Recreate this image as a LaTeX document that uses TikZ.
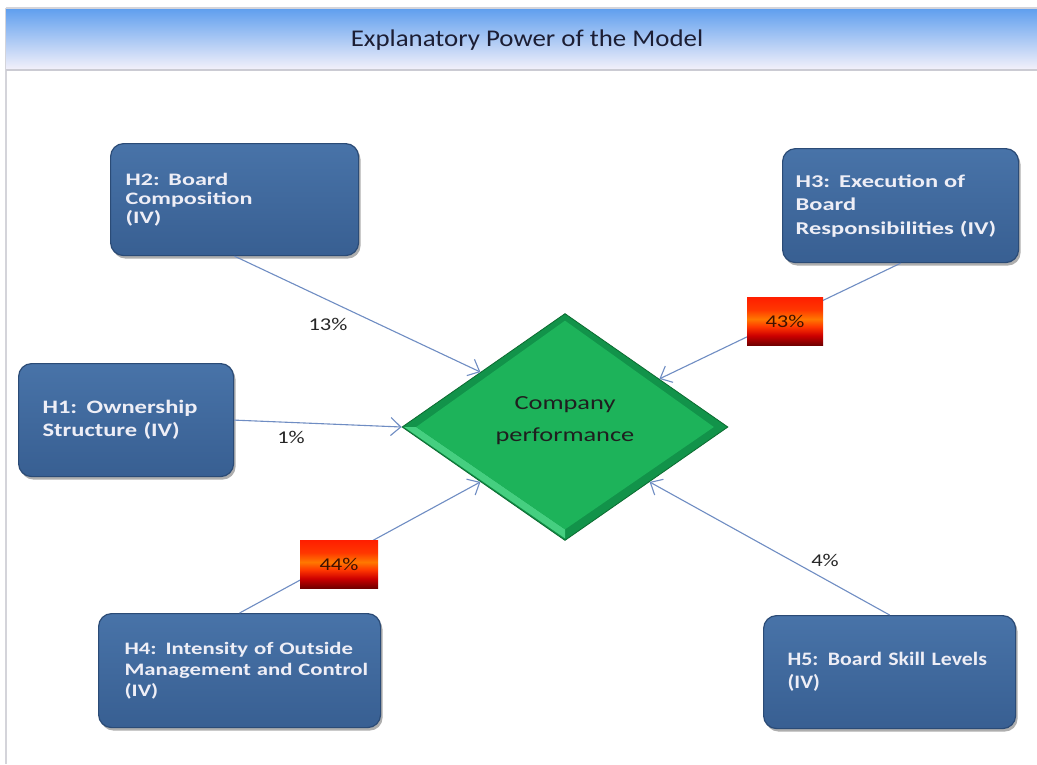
\documentclass[tikz,border=0pt]{standalone}
\usepackage{fontspec}
\setmainfont{Carlito}
\newfontfamily\boxfont{Carlito}
\newfontfamily\titlefont[FakeStretch=1.12]{Carlito}
\newfontfamily\cpfont[FakeStretch=1.32]{Carlito}
\newfontfamily\pfont[FakeStretch=1.25]{Carlito}
\usetikzlibrary{shapes.geometric,shadows,arrows.meta,calc}
\definecolor{boxtop}{HTML}{4873A8}
\definecolor{boxbot}{HTML}{385F92}
\definecolor{boxedge}{HTML}{2B4B76}
\definecolor{boxtext}{HTML}{EEEEF6}
\definecolor{arrowc}{HTML}{6F8DC3}
\definecolor{dgreen}{HTML}{12934A}
\definecolor{mgreen}{HTML}{1DB35A}
\definecolor{lgreen}{HTML}{45CF80}
\definecolor{egreen}{HTML}{0B6B30}
\definecolor{bannertop}{HTML}{5E9EEE}
\definecolor{bannerbot}{HTML}{F2F0FA}
\definecolor{frame}{HTML}{D4D4DA}
\definecolor{ptext}{HTML}{3E1200}
\definecolor{rbA}{RGB}{115,0,0}
\definecolor{rbB}{RGB}{205,0,0}
\definecolor{rbC}{RGB}{255,55,0}
\definecolor{rbD}{RGB}{255,120,0}
\definecolor{rbE}{RGB}{255,30,0}
\pgfdeclareverticalshading{redbox}{100bp}{color(0bp)=(rbA); color(25bp)=(rbA); color(35bp)=(rbB); color(44bp)=(rbC); color(52bp)=(rbD); color(62bp)=(rbC); color(75bp)=(rbE); color(100bp)=(rbE)}
\newcommand{\bxfont}[3]{\boxfont\bfseries\fontsize{#1}{#2}\selectfont\addfontfeatures{FakeStretch=#3}}
\newcommand{\bxline}[1]{\mbox{#1}}
\begin{document}
\begin{tikzpicture}[x=1pt,y=-1pt,
  hbox/.style={rectangle, rounded corners=13pt, draw=boxedge, line width=1.2pt,
    top color=boxtop, bottom color=boxbot, anchor=north west, align=left,
    text=boxtext,
    drop shadow={shadow xshift=2pt, shadow yshift=-3pt, opacity=0.45, fill=black!70}},
  conn/.style={draw=arrowc, line width=1.1pt, -{Straight Barb[length=10pt,width=18pt]}},
  pbox/.style={rectangle, minimum width=76pt, minimum height=48pt, inner sep=0pt,
    shading=redbox, text=ptext, font=\pfont\fontsize{18}{20}\selectfont},
  plabel/.style={font=\pfont\fontsize{18}{20}\selectfont, text=black!85}]
\useasboundingbox (0,0) rectangle (1037,764);
\fill[white] (0,0) rectangle (1037,764);
% frame and banner
\draw[frame, line width=1.2pt] (6,8) -- (6,764);
\fill[top color=bannertop, bottom color=bannerbot] (6,8) rectangle (1037,69);
\draw[frame, line width=1.5pt] (6,8) -- (1037,8);
\draw[frame!120, line width=2pt] (6,70) -- (1037,70);
\node[font=\titlefont\fontsize{24}{26}\selectfont, text={rgb,255:red,28;green,30;blue,52}] (title) at (527,40) {Explanatory Power of the Model};
% central diamond
\node[diamond, minimum width=326pt, minimum height=227pt, inner sep=0pt, fill=dgreen,
  draw=egreen, line width=0.8pt,
  font=\cpfont\fontsize{20}{32}\selectfont, text=black!88,
  path picture={
    \fill[lgreen] ($(path picture bounding box.west)+(2,0)$) -- ($(path picture bounding box.south)+(0,-2)$) -- ($(path picture bounding box.south)+(0,-11)$) -- ($(path picture bounding box.west)+(14,0)$) -- cycle;
    \fill[mgreen] ($(path picture bounding box.north)+(0,7)$) -- ($(path picture bounding box.east)+(-14,0)$) -- ($(path picture bounding box.south)+(0,-11)$) -- ($(path picture bounding box.west)+(14,0)$) -- cycle;
  }] (cp) at (565,427) {\raisebox{3pt}[0pt][0pt]{\begin{tabular}{@{}c@{}}Company\\performance\end{tabular}}};
% boxes
\node[hbox, minimum width=248pt, minimum height=112pt, inner xsep=15pt, text width=218pt, font=\bxfont{17.5}{19}{1.38}] (h2) at (110,143) {\bxline{H2: Board}\\\bxline{Composition}\\\bxline{(IV)}};
\node[hbox, minimum width=236pt, minimum height=114pt, inner xsep=13pt, text width=210pt, font=\bxfont{18}{23.5}{1.36}] (h3) at (782,148) {\bxline{H3: Execution of}\\\bxline{Board}\\\bxline{Responsibilities (IV)}};
\node[hbox, minimum width=215pt, minimum height=113pt, inner xsep=24pt, text width=167pt, font=\bxfont{19}{23}{1.29}] (h1) at (18,363) {\bxline{H1: Ownership}\\\bxline{Structure (IV)}};
\node[hbox, minimum width=282pt, minimum height=114pt, inner xsep=26pt, text width=230pt, font=\bxfont{17.5}{21}{1.3}] (h4) at (98,613) {\bxline{H4: Intensity of Outside}\\\bxline{Management and Control}\\\bxline{(IV)}};
\node[hbox, minimum width=252pt, minimum height=113pt, inner xsep=24pt, text width=204pt, font=\bxfont{19}{23}{1.15}] (h5) at (763,615) {\bxline{H5: Board Skill Levels}\\\bxline{(IV)}};
% connectors
\draw[conn] (h2.south) -- (cp.147);
\draw[conn] (h3.south) -- (cp.27);
\draw[conn] (h1.east) -- (cp.west);
\draw[conn] (h4.north) -- (cp.213);
\draw[conn] (h5.north) -- (cp.327);
% labels
\node[plabel] (l13) at (328,324) {13\%};
\node[plabel] (l1) at (291,437) {1\%};
\node[plabel] (l4) at (825,560) {4\%};
\node[pbox] (p43) at (785,321) {43\%};
\node[pbox, minimum width=78pt] (p44) at (339,564) {44\%};
\end{tikzpicture}
\end{document}
